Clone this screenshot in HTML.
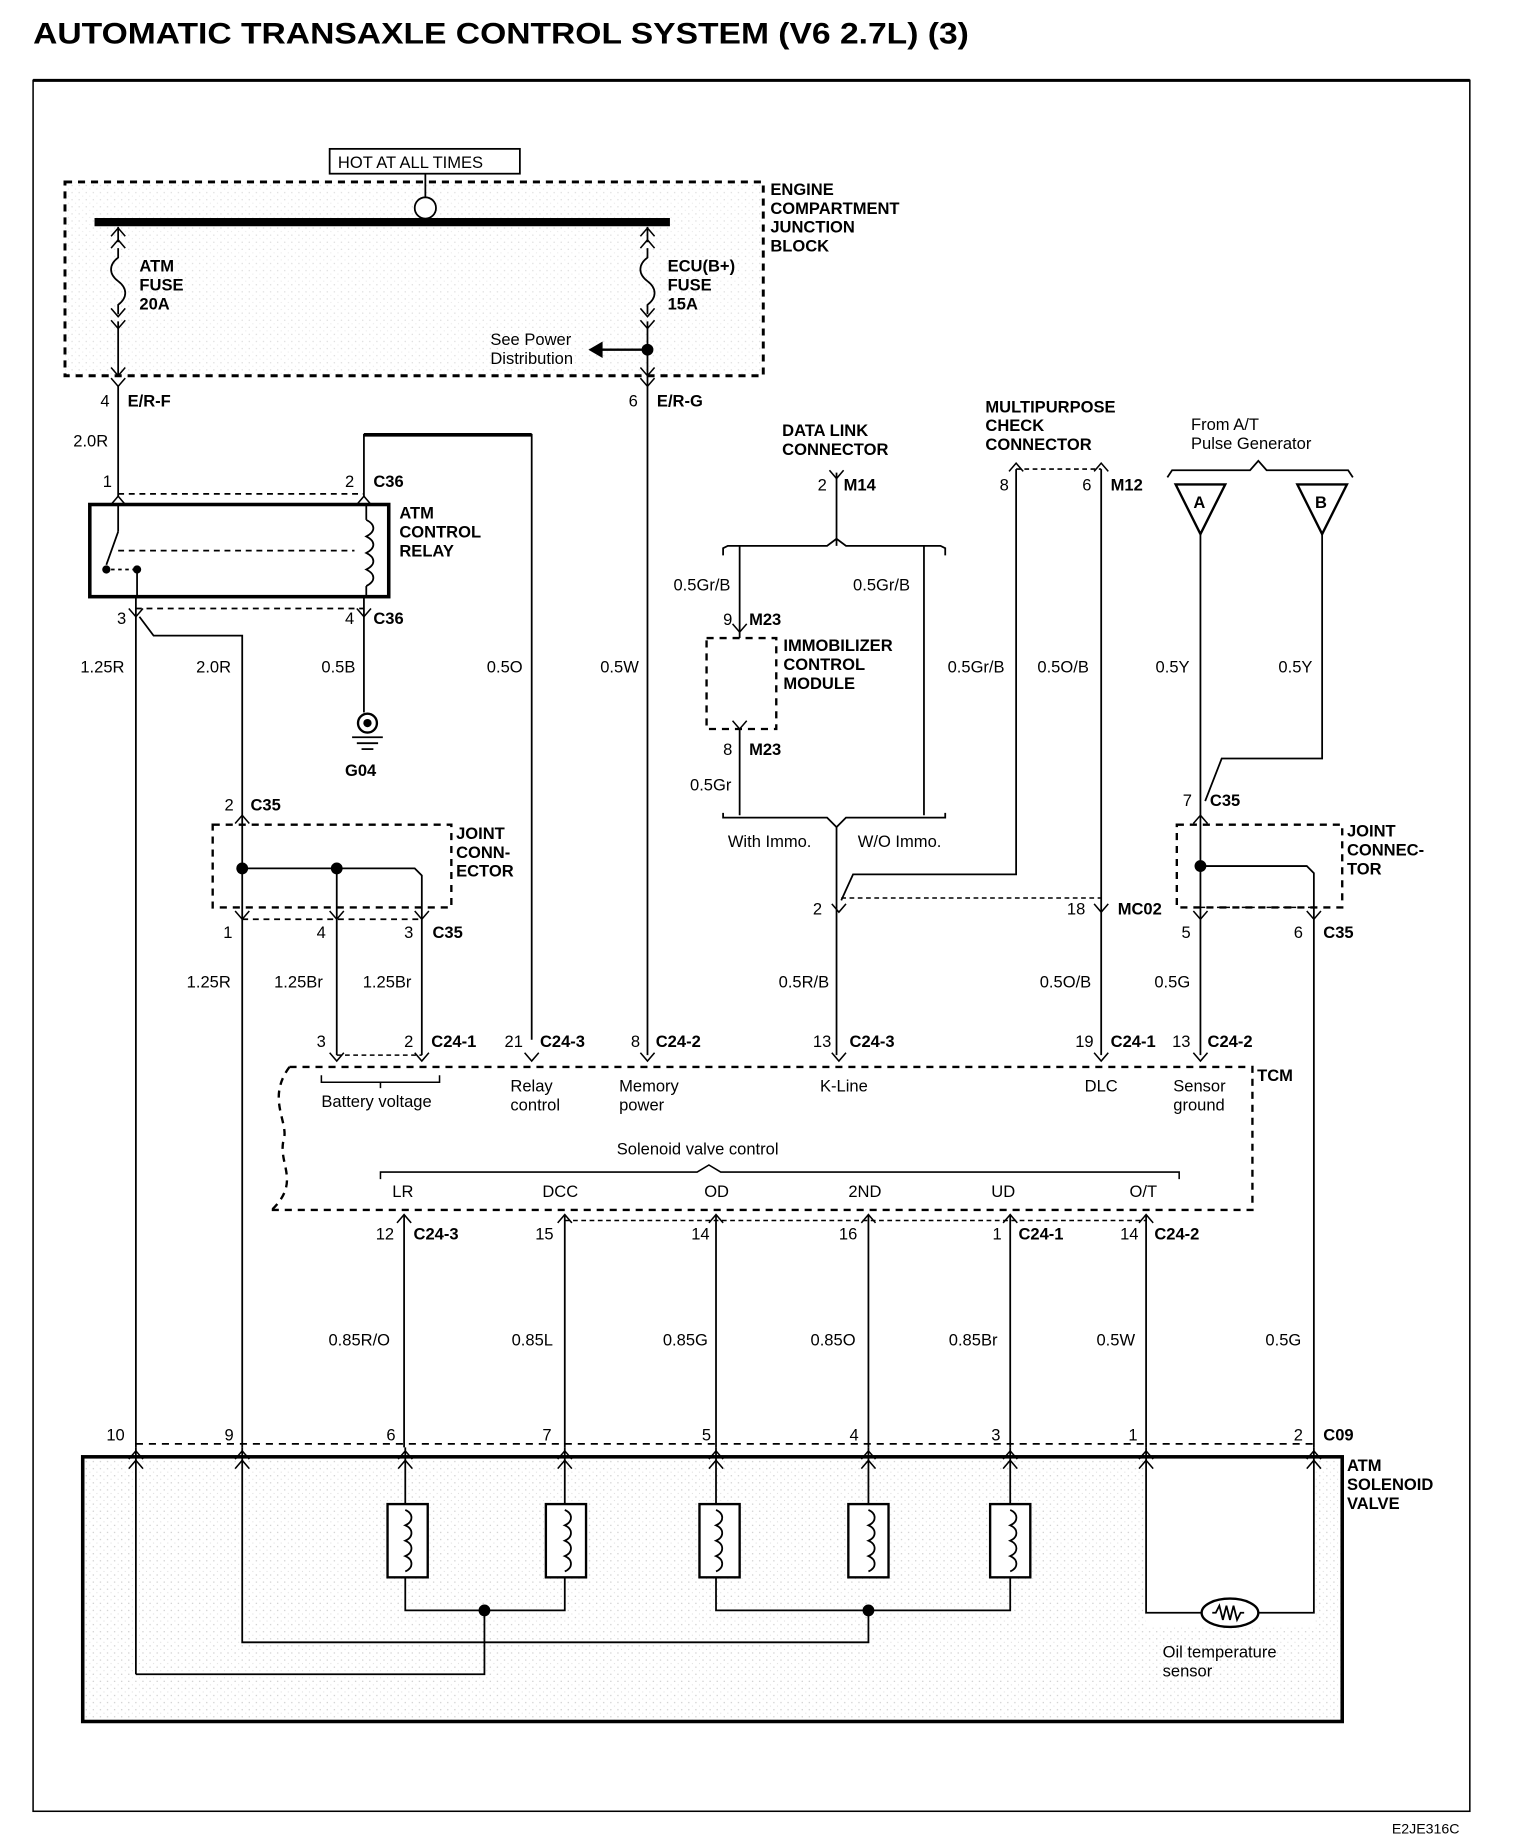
<!DOCTYPE html>
<html><head><meta charset="utf-8"><style>
html,body{margin:0;padding:0;background:#fff}
svg{display:block}
text{font-family:"Liberation Sans",sans-serif;font-size:14px;fill:#000}
.b{font-weight:bold}
</style></head><body>
<svg width="1536" height="1842" viewBox="0 0 1300 1559" xmlns="http://www.w3.org/2000/svg">
<defs>
<pattern id="st" width="6" height="6" patternUnits="userSpaceOnUse"><rect width="6" height="6" fill="#fff"/><circle cx="1" cy="1" r="0.6" fill="#999"/><circle cx="4" cy="4" r="0.5" fill="#bbb"/></pattern>
<path id="u" d="M-6,7 L0,0 L6,7" fill="none" stroke="#000" stroke-width="1.3"/>
<path id="d" d="M-6,-7 L0,0 L6,-7" fill="none" stroke="#000" stroke-width="1.3"/>
</defs>
<g stroke="#000" fill="none">
<rect x="28" y="68" width="1216" height="1465" stroke-width="1.3"/>
<line x1="28" y1="68" x2="1244" y2="68" stroke-width="2.5"/>
</g>
<text x="28" y="37" class="b" style="font-size:25px" textLength="792" lengthAdjust="spacingAndGlyphs">AUTOMATIC TRANSAXLE CONTROL SYSTEM (V6 2.7L) (3)</text>
<text x="1178" y="1552" style="font-size:12px">E2JE316C</text>

<rect x="55" y="154" width="591" height="164" fill="url(#st)" opacity="0.35"/>
<g stroke="#000" fill="none" stroke-width="2.5" stroke-dasharray="6,5">
<rect x="55" y="154" width="591" height="164"/>
</g>
<rect x="279" y="126" width="161" height="21" fill="#fff" stroke="#000" stroke-width="1.5"/>
<text x="286" y="142">HOT AT ALL TIMES</text>
<g stroke="#000" fill="none" stroke-width="1.5">
<line x1="360" y1="147" x2="360" y2="167"/>
<circle cx="360" cy="176" r="9" fill="#fff"/>
<line x1="80" y1="188" x2="567" y2="188" stroke-width="7"/>
<line x1="100" y1="192" x2="100" y2="205"/>
<path d="M100,210 v8 c-8,6 -8,14 0,20 c8,6 8,14 0,20 v8"/>
<line x1="100" y1="272" x2="100" y2="318"/>
<line x1="548" y1="192" x2="548" y2="205"/>
<path d="M548,210 v8 c-8,6 -8,14 0,20 c8,6 8,14 0,20 v8"/>
<line x1="548" y1="272" x2="548" y2="893"/>
<line x1="548" y1="296" x2="508" y2="296" stroke-width="2"/>
</g>
<polygon points="498,296 510,289 510,303" fill="#000"/>
<circle cx="548" cy="296" r="5" fill="#000"/>
<use href="#u" x="100" y="193"/><use href="#u" x="100" y="203"/><use href="#d" x="100" y="268"/><use href="#d" x="100" y="278"/>
<use href="#u" x="548" y="193"/><use href="#u" x="548" y="203"/><use href="#d" x="548" y="268"/><use href="#d" x="548" y="278"/>
<use href="#d" x="100" y="318"/><use href="#d" x="100" y="327"/><use href="#d" x="548" y="318"/><use href="#d" x="548" y="327"/>
<text class="b" x="118" y="230">ATM</text><text class="b" x="118" y="246">FUSE</text><text class="b" x="118" y="262">20A</text>
<text class="b" x="565" y="230">ECU(B+)</text><text class="b" x="565" y="246">FUSE</text><text class="b" x="565" y="262">15A</text>
<text x="415" y="292">See Power</text><text x="415" y="308">Distribution</text>
<text class="b" x="652" y="165">ENGINE</text><text class="b" x="652" y="181">COMPARTMENT</text><text class="b" x="652" y="197">JUNCTION</text><text class="b" x="652" y="213">BLOCK</text>
<text x="85" y="344">4</text><text class="b" x="108" y="344">E/R-F</text>
<text x="532" y="344">6</text><text class="b" x="556" y="344">E/R-G</text>

<g stroke="#000" fill="none" stroke-width="1.5">
<line x1="100" y1="327" x2="100" y2="420"/>
<path d="M308,420 V368 H450 V880"/>
<line x1="308" y1="368" x2="450" y2="368" stroke-width="3"/>
<line x1="100" y1="418" x2="308" y2="418" stroke-dasharray="5,4"/>
<rect x="76" y="427" width="253" height="78" stroke-width="3"/>
<line x1="100" y1="427" x2="100" y2="450"/>
<line x1="100" y1="450" x2="90" y2="478"/>
<line x1="116" y1="482" x2="116" y2="505"/>
<line x1="100" y1="466" x2="300" y2="466" stroke-dasharray="5,4"/>
<line x1="88" y1="482" x2="116" y2="482" stroke-dasharray="3,3"/>
<line x1="310" y1="427" x2="310" y2="440"/>
<path d="M310,440 c8,4 8,10 0,14 c8,4 8,10 0,14 c8,4 8,10 0,14 c8,4 8,10 0,14"/>
<line x1="310" y1="496" x2="310" y2="505"/>
<line x1="115" y1="515" x2="308" y2="515" stroke-dasharray="5,4"/>
<line x1="115" y1="505" x2="115" y2="1225"/>
<path d="M118,522 L130,538 H205 V690"/>
<line x1="308" y1="505" x2="308" y2="603"/>
</g>
<circle cx="90" cy="482" r="3.5" fill="#000"/><circle cx="116" cy="482" r="3.5" fill="#000"/>
<use href="#u" x="100" y="420"/><use href="#u" x="308" y="420"/><use href="#d" x="115" y="522"/><use href="#d" x="308" y="522"/>
<text x="87" y="412">1</text><text x="292" y="412">2</text><text class="b" x="316" y="412">C36</text>
<text x="99" y="528">3</text><text x="292" y="528">4</text><text class="b" x="316" y="528">C36</text>
<text class="b" x="338" y="439">ATM</text><text class="b" x="338" y="455">CONTROL</text><text class="b" x="338" y="471">RELAY</text>
<text x="62" y="378">2.0R</text>
<circle cx="311" cy="612" r="8" fill="none" stroke="#000" stroke-width="2"/><circle cx="311" cy="612" r="3.5" fill="#000"/>
<g stroke="#000" stroke-width="1.5"><line x1="298" y1="624" x2="324" y2="624"/><line x1="302" y1="629" x2="320" y2="629"/><line x1="306" y1="634" x2="316" y2="634"/></g>
<text class="b" x="292" y="657">G04</text>
<text x="68" y="569">1.25R</text><text x="166" y="569">2.0R</text><text x="272" y="569">0.5B</text><text x="412" y="569">0.5O</text><text x="508" y="569">0.5W</text>

<g stroke="#000" fill="none" stroke-width="1.5">
<rect x="180" y="698" width="202" height="70" stroke-width="2" stroke-dasharray="6,5"/>
<line x1="205" y1="690" x2="205" y2="1225"/>
<path d="M205,735 H351 L357,741 V893"/>
<line x1="285" y1="735" x2="285" y2="893"/>
<line x1="205" y1="778" x2="357" y2="778" stroke-dasharray="5,4"/>
</g>
<circle cx="205" cy="735" r="5" fill="#000"/><circle cx="285" cy="735" r="5" fill="#000"/>
<use href="#u" x="205" y="690"/><use href="#d" x="205" y="778"/><use href="#d" x="285" y="778"/><use href="#d" x="357" y="778"/>
<text x="190" y="686">2</text><text class="b" x="212" y="686">C35</text>
<text class="b" x="386" y="710">JOINT</text><text class="b" x="386" y="726">CONN-</text><text class="b" x="386" y="742">ECTOR</text>
<text x="189" y="794">1</text><text x="268" y="794">4</text><text x="342" y="794">3</text><text class="b" x="366" y="794">C35</text>
<text x="158" y="836">1.25R</text><text x="232" y="836">1.25Br</text><text x="307" y="836">1.25Br</text>

<g stroke="#000" fill="none" stroke-width="2" stroke-dasharray="6,5">
<path d="M245,903 H1060 V1024 H230"/>
<path d="M245,903 C225,930 245,950 240,965 C235,985 255,1000 230,1024"/>
<line x1="285" y1="893" x2="357" y2="893" stroke-width="1.3" stroke-dasharray="4,3"/>
<line x1="478" y1="1033" x2="970" y2="1033" stroke-width="1.3" stroke-dasharray="4,3"/>
<line x1="712" y1="760" x2="932" y2="760" stroke-width="1.3" stroke-dasharray="4,3"/>
<line x1="1016" y1="768" x2="1112" y2="768" stroke-width="1.3" stroke-dasharray="4,3"/>
<line x1="115" y1="1222" x2="1112" y2="1222" stroke-width="1.5"/>
<line x1="860" y1="397" x2="932" y2="397" stroke-width="1.3" stroke-dasharray="4,3"/>
</g>
<g stroke="#000" fill="none" stroke-width="1.3">
<path d="M272,910 v6 H372 v-6 M322,916 v5"/>
<path d="M322,998 v-6 H590 L600,986 L610,992 H998 v6"/>
</g>
<use href="#d" x="285" y="898"/><use href="#d" x="357" y="898"/><use href="#d" x="450" y="898"/><use href="#d" x="548" y="898"/><use href="#d" x="710" y="898"/><use href="#d" x="932" y="898"/><use href="#d" x="1016" y="898"/>
<text x="268" y="886">3</text><text x="342" y="886">2</text><text class="b" x="365" y="886">C24-1</text>
<text x="427" y="886">21</text><text class="b" x="457" y="886">C24-3</text>
<text x="534" y="886">8</text><text class="b" x="555" y="886">C24-2</text>
<text x="688" y="886">13</text><text class="b" x="719" y="886">C24-3</text>
<text x="910" y="886">19</text><text class="b" x="940" y="886">C24-1</text>
<text x="992" y="886">13</text><text class="b" x="1022" y="886">C24-2</text>
<text x="272" y="937">Battery voltage</text>
<text x="432" y="924">Relay</text><text x="432" y="940">control</text>
<text x="524" y="924">Memory</text><text x="524" y="940">power</text>
<text x="694" y="924">K-Line</text><text x="918" y="924">DLC</text>
<text x="993" y="924">Sensor</text><text x="993" y="940">ground</text>
<text class="b" x="1064" y="915">TCM</text>
<text x="522" y="977">Solenoid valve control</text>
<text x="332" y="1013">LR</text><text x="459" y="1013">DCC</text><text x="596" y="1013">OD</text><text x="718" y="1013">2ND</text><text x="839" y="1013">UD</text><text x="956" y="1013">O/T</text>

<g stroke="#000" fill="none" stroke-width="1.5">
<line x1="342" y1="1028" x2="342" y2="1225"/><line x1="478" y1="1028" x2="478" y2="1225"/><line x1="606" y1="1028" x2="606" y2="1225"/><line x1="735" y1="1028" x2="735" y2="1225"/><line x1="855" y1="1028" x2="855" y2="1225"/><line x1="970" y1="1028" x2="970" y2="1225"/>
<line x1="1112" y1="778" x2="1112" y2="1225"/>
</g>
<use href="#u" x="342" y="1028"/><use href="#u" x="478" y="1028"/><use href="#u" x="606" y="1028"/><use href="#u" x="735" y="1028"/><use href="#u" x="855" y="1028"/><use href="#u" x="970" y="1028"/>
<text x="318" y="1049">12</text><text class="b" x="350" y="1049">C24-3</text>
<text x="453" y="1049">15</text><text x="585" y="1049">14</text><text x="710" y="1049">16</text>
<text x="840" y="1049">1</text><text class="b" x="862" y="1049">C24-1</text>
<text x="948" y="1049">14</text><text class="b" x="977" y="1049">C24-2</text>
<text x="278" y="1139">0.85R/O</text><text x="433" y="1139">0.85L</text><text x="561" y="1139">0.85G</text><text x="686" y="1139">0.85O</text><text x="803" y="1139">0.85Br</text><text x="928" y="1139">0.5W</text><text x="1071" y="1139">0.5G</text>

<rect x="70" y="1233" width="1066" height="224" fill="url(#st)" opacity="0.5"/>
<rect x="970" y="1236" width="142" height="140" fill="#fff"/>
<rect x="70" y="1233" width="1066" height="224" fill="none" stroke="#000" stroke-width="3"/>
<g stroke="#000" fill="none" stroke-width="1.5">
<line x1="115" y1="1225" x2="115" y2="1417"/><path d="M115,1417 H410 V1363"/>
<path d="M205,1225 V1390 H735 V1363"/>
<line x1="343" y1="1225" x2="343" y2="1275"/><line x1="478" y1="1225" x2="478" y2="1275"/><line x1="606" y1="1225" x2="606" y2="1275"/><line x1="735" y1="1225" x2="735" y2="1275"/><line x1="855" y1="1225" x2="855" y2="1275"/>
<path d="M343,1335 V1363 H478 V1335"/>
<path d="M606,1335 V1363 H855 V1335"/>
<rect x="328" y="1273" width="34" height="62" fill="#fff" stroke-width="2"/>
<rect x="462" y="1273" width="34" height="62" fill="#fff" stroke-width="2"/>
<rect x="592" y="1273" width="34" height="62" fill="#fff" stroke-width="2"/>
<rect x="718" y="1273" width="34" height="62" fill="#fff" stroke-width="2"/>
<rect x="838" y="1273" width="34" height="62" fill="#fff" stroke-width="2"/>
<path d="M343,1278 c7,3 7,10 0,13 c7,3 7,10 0,13 c7,3 7,10 0,13 c7,3 7,10 0,13"/>
<path d="M478,1278 c7,3 7,10 0,13 c7,3 7,10 0,13 c7,3 7,10 0,13 c7,3 7,10 0,13"/>
<path d="M606,1278 c7,3 7,10 0,13 c7,3 7,10 0,13 c7,3 7,10 0,13 c7,3 7,10 0,13"/>
<path d="M735,1278 c7,3 7,10 0,13 c7,3 7,10 0,13 c7,3 7,10 0,13 c7,3 7,10 0,13"/>
<path d="M855,1278 c7,3 7,10 0,13 c7,3 7,10 0,13 c7,3 7,10 0,13 c7,3 7,10 0,13"/>
<path d="M970,1225 V1365 H1017 M1065,1365 H1112 V1225"/>
<ellipse cx="1041" cy="1365" rx="24" ry="12" fill="#fff" stroke-width="2"/>
<path d="M1026,1365 l3,0 l3,-6 l3,12 l3,-12 l3,12 l3,-12 l3,12 l3,-6 l3,0"/>
</g>
<circle cx="410" cy="1363" r="5" fill="#000"/><circle cx="735" cy="1363" r="5" fill="#000"/>
<use href="#u" x="115" y="1228"/><use href="#u" x="205" y="1228"/><use href="#u" x="343" y="1228"/><use href="#u" x="478" y="1228"/><use href="#u" x="606" y="1228"/><use href="#u" x="735" y="1228"/><use href="#u" x="855" y="1228"/><use href="#u" x="970" y="1228"/><use href="#u" x="1112" y="1228"/>
<use href="#u" x="115" y="1236"/><use href="#u" x="205" y="1236"/><use href="#u" x="343" y="1236"/><use href="#u" x="478" y="1236"/><use href="#u" x="606" y="1236"/><use href="#u" x="735" y="1236"/><use href="#u" x="855" y="1236"/><use href="#u" x="970" y="1236"/><use href="#u" x="1112" y="1236"/>
<text x="90" y="1219">10</text><text x="190" y="1219">9</text><text x="327" y="1219">6</text><text x="459" y="1219">7</text><text x="594" y="1219">5</text><text x="719" y="1219">4</text><text x="839" y="1219">3</text><text x="955" y="1219">1</text><text x="1095" y="1219">2</text><text class="b" x="1120" y="1219">C09</text>
<text class="b" x="1140" y="1245">ATM</text><text class="b" x="1140" y="1261">SOLENOID</text><text class="b" x="1140" y="1277">VALVE</text>
<text x="984" y="1403">Oil temperature</text><text x="984" y="1419">sensor</text>

<g stroke="#000" fill="none" stroke-width="1.5">
<line x1="708" y1="400" x2="708" y2="462"/>
<path d="M612,470 v-6 l4,-2 H700 L708,456 L716,462 H796 l4,2 v6"/>
<line x1="626" y1="462" x2="626" y2="540"/>
<line x1="782" y1="462" x2="782" y2="690"/>
<rect x="598" y="540" width="59" height="77" stroke-width="2" stroke-dasharray="6,5"/>
<line x1="626" y1="617" x2="626" y2="690"/>
<path d="M612,688 v4 l6,0 H700 L708,700 L716,692 H800 v-4"/>
<path d="M708,700 V893"/>
<path d="M860,397 V740 H722 L712,762"/>
<line x1="932" y1="397" x2="932" y2="893"/>
</g>
<use href="#d" x="708" y="405"/><use href="#d" x="626" y="535"/><use href="#d" x="626" y="617"/><use href="#d" x="710" y="772"/><use href="#d" x="932" y="772"/>
<use href="#u" x="860" y="392"/><use href="#u" x="932" y="392"/>
<text class="b" x="662" y="369">DATA LINK</text><text class="b" x="662" y="385">CONNECTOR</text>
<text x="692" y="415">2</text><text class="b" x="714" y="415">M14</text>
<text x="570" y="500">0.5Gr/B</text><text x="722" y="500">0.5Gr/B</text>
<text x="612" y="529">9</text><text class="b" x="634" y="529">M23</text>
<text class="b" x="663" y="551">IMMOBILIZER</text><text class="b" x="663" y="567">CONTROL</text><text class="b" x="663" y="583">MODULE</text>
<text x="612" y="639">8</text><text class="b" x="634" y="639">M23</text>
<text x="584" y="669">0.5Gr</text>
<text x="616" y="717">With Immo.</text><text x="726" y="717">W/O Immo.</text>
<text class="b" x="834" y="349">MULTIPURPOSE</text><text class="b" x="834" y="365">CHECK</text><text class="b" x="834" y="381">CONNECTOR</text>
<text x="846" y="415">8</text><text x="916" y="415">6</text><text class="b" x="940" y="415">M12</text>
<text x="802" y="569">0.5Gr/B</text><text x="878" y="569">0.5O/B</text>
<text x="688" y="774">2</text><text x="903" y="774">18</text><text class="b" x="946" y="774">MC02</text>
<text x="659" y="836">0.5R/B</text><text x="880" y="836">0.5O/B</text>

<g stroke="#000" fill="none" stroke-width="1.5">
<path d="M988,404 l4,-6 H1058 L1065,390 L1072,398 H1141 l4,6"/>
<polygon points="995,410 1037,410 1016,452" stroke-width="2"/>
<polygon points="1098,410 1140,410 1119,452" stroke-width="2"/>
<line x1="1016" y1="452" x2="1016" y2="893"/>
<path d="M1119,452 V642 H1034 L1020,678"/>
<rect x="996" y="698" width="140" height="70" stroke-width="2" stroke-dasharray="6,5"/>
<path d="M1016,733 H1106 L1112,739 V778"/>
</g>
<circle cx="1016" cy="733" r="5" fill="#000"/>
<use href="#u" x="1016" y="690"/><use href="#d" x="1016" y="778"/><use href="#d" x="1112" y="778"/>
<text x="1008" y="364">From A/T</text><text x="1008" y="380">Pulse Generator</text>
<text class="b" x="1010" y="430">A</text><text class="b" x="1113" y="430">B</text>
<text x="978" y="569">0.5Y</text><text x="1082" y="569">0.5Y</text>
<text x="1001" y="682">7</text><text class="b" x="1024" y="682">C35</text>
<text class="b" x="1140" y="708">JOINT</text><text class="b" x="1140" y="724">CONNEC-</text><text class="b" x="1140" y="740">TOR</text>
<text x="1000" y="794">5</text><text x="1095" y="794">6</text><text class="b" x="1120" y="794">C35</text>
<text x="977" y="836">0.5G</text>
</svg>
</body></html>
